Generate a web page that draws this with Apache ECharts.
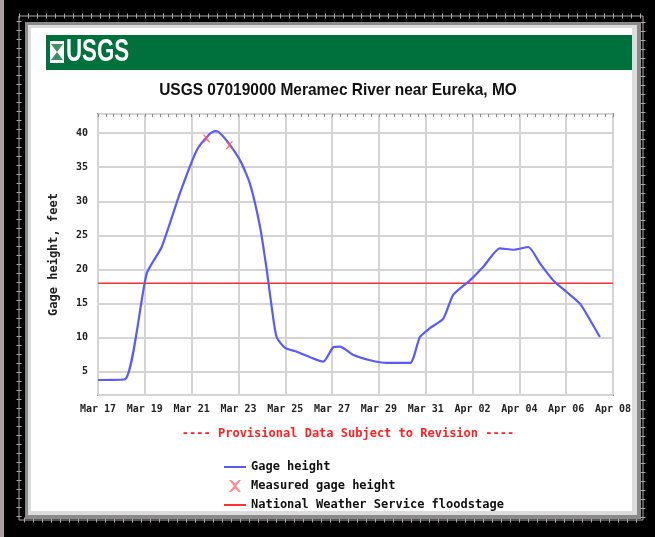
<!DOCTYPE html>
<html>
<head>
<meta charset="utf-8">
<script src="https://cdn.jsdelivr.net/npm/echarts@6/dist/echarts.min.js"></script>
<style>
  html, body { margin: 0; padding: 0; background: #000; }
  #chart { width: 655px; height: 537px; }
</style>
</head>
<body>
<div id="chart"></div>
<script>
// days since Mar 17 00:00 and gage height (feet)
const gageDays = [0, 1.15, 2.08, 2.72, 3.5, 4.22, 4.78, 5.0, 5.14, 5.5, 6.07, 6.49, 6.92, 7.21, 7.42, 7.63, 7.99, 8.49, 9.62, 10.05, 10.34, 10.89, 11.62, 12.33, 13.33, 13.75, 14.18, 14.75, 15.18, 15.89, 16.46, 17.17, 17.74, 18.38, 18.88, 19.45, 20.02, 20.59, 21.02, 21.44]
const gageHeight = [3.8, 3.9, 19.4, 23.3, 31.2, 37.5, 39.9, 40.3, 40.2, 38.9, 36.0, 32.6, 26.3, 19.9, 14.5, 10.1, 8.5, 7.95, 6.5, 8.6, 8.7, 7.5, 6.7, 6.3, 6.3, 10.1, 11.4, 12.8, 16.3, 18.4, 20.4, 23.1, 22.9, 23.3, 20.9, 18.4, 16.7, 15.0, 12.6, 10.1]

const measuredDays = [4.64, 5.61]
const measuredHeight = [39.2, 38.2]

const floodStage = 18
const startDate = Date.UTC(2008, 2, 17)
const monthNames = ['Jan', 'Feb', 'Mar', 'Apr', 'May', 'Jun', 'Jul', 'Aug', 'Sep', 'Oct', 'Nov', 'Dec']

function dayLabel(v) {
  const d = new Date(startDate + v * 86400000)
  const dd = String(d.getUTCDate()).padStart(2, '0')
  return monthNames[d.getUTCMonth()] + ' ' + dd
}

const mono = '"DejaVu Sans Mono", monospace'
const sans = '"Liberation Sans", Arial, sans-serif'
const xPath = 'path://M0,0 L2,0 L5,3 L8,0 L10,0 L6,5 L10,10 L8,10 L5,7 L2,10 L0,10 L4,5 Z'
const monoText = { fontFamily: mono, fontWeight: 'bold', color: '#222' }

const chart = echarts.init(document.getElementById('chart'))
chart.setOption({
  backgroundColor: '#000',
  animation: false,
  graphic: [
    { type: 'rect', z: -10, silent: true, shape: { x: 0, y: 0, width: 4, height: 537 }, style: { fill: '#a99ca3' } },
    { type: 'rect', z: -10, silent: true, shape: { x: 19, y: 16, width: 624, height: 504 }, style: { fill: 'none', stroke: '#b0a8ac', lineWidth: 1 } },
    { type: 'rect', z: -10, silent: true, shape: { x: 19, y: 16, width: 624, height: 504 }, style: { fill: 'none', stroke: '#b0a8ac', lineWidth: 5, lineDash: [1, 8] } },
    { type: 'rect', z: -10, silent: true, shape: { x: 25, y: 22, width: 616, height: 497 }, style: { fill: '#8a8a8a' } },
    { type: 'rect', z: -10, silent: true, shape: { x: 28, y: 25, width: 609, height: 490 }, style: { fill: '#dcdcdc' } },
    { type: 'rect', z: -10, silent: true, shape: { x: 31, y: 28, width: 601, height: 483 }, style: { fill: '#fff' } },
    { type: 'rect', z: -9, silent: true, shape: { x: 46, y: 35, width: 586, height: 35 }, style: { fill: '#00703c' } },
    { type: 'rect', z: -8, silent: true, shape: { x: 50, y: 41, width: 14, height: 22 }, style: { fill: '#fff' } },
    { type: 'polygon', z: -7, silent: true, shape: { points: [[51, 44], [57, 52], [51, 60], [63, 60], [57, 52], [63, 44]] }, style: { fill: '#3f8f64' } },
    { type: 'text', z: -7, silent: true, x: 66, y: 52, scaleX: 0.72, style: { text: 'USGS', font: 'bold 31px ' + sans, fill: '#fff', textVerticalAlign: 'middle' } },
    { type: 'text', z: -7, silent: true, x: 338, y: 90, scaleX: 0.91, style: { text: 'USGS 07019000 Meramec River near Eureka, MO', font: 'bold 17px ' + sans, fill: '#111', textAlign: 'center', textVerticalAlign: 'middle' } },
    { type: 'text', z: -7, silent: true, x: 348, y: 434, style: { text: '---- Provisional Data Subject to Revision ----', font: 'bold 12px ' + mono, fill: '#ff2020', textAlign: 'center', textVerticalAlign: 'middle' } }
  ],
  grid: {
    left: 98, top: 114, width: 515, height: 281,
    show: true, backgroundColor: '#fff', borderColor: '#8c8c8c', borderWidth: 2
  },
  legend: {
    orient: 'vertical',
    left: 219, top: 456,
    itemWidth: 22, itemHeight: 12, itemGap: 7,
    textStyle: { fontFamily: mono, fontWeight: 'bold', fontSize: 12, color: '#111' },
    data: [
      { name: 'Gage height', icon: 'path://M0,5 L22,5 L22,7 L0,7 Z' },
      { name: 'Measured gage height', icon: xPath, itemStyle: { color: '#ff7070' } },
      { name: 'National Weather Service floodstage', icon: 'path://M0,5 L22,5 L22,7 L0,7 Z' }
    ]
  },
  xAxis: [{
    type: 'value', min: 0, max: 22, interval: 2,
    axisLine: { show: false },
    axisTick: { show: false },
    axisLabel: Object.assign({ formatter: dayLabel, margin: 9, fontSize: 10 }, monoText),
    splitLine: { lineStyle: { color: '#d4d4d4', width: 2 } }
  }, {
    type: 'value', min: 0, max: 22, interval: 2, position: 'top',
    axisLine: { show: false },
    axisTick: { show: true, inside: true, length: 3, lineStyle: { color: '#888' } },
    minorTick: { show: true, splitNumber: 6, length: 3, lineStyle: { color: '#888' } },
    axisLabel: { show: false },
    splitLine: { show: false }
  }],
  yAxis: {
    type: 'value', min: 1.6, max: 42.8, splitNumber: 8,
    name: 'Gage height, feet', nameLocation: 'middle', nameGap: 38, nameRotate: 90,
    nameTextStyle: Object.assign({ fontSize: 12 }, monoText),
    axisLine: { show: false },
    axisTick: { show: false },
    axisLabel: Object.assign({
      showMinLabel: false, showMaxLabel: false, margin: 10, fontSize: 10,
      formatter: v => (Math.abs(v % 5) < 1e-6 ? String(v) : '')
    }, monoText),
    splitLine: { lineStyle: { color: '#d4d4d4', width: 2 } }
  },
  series: [
    {
      name: 'Gage height', type: 'line', smooth: 0.2, showSymbol: false,
      data: gageDays.map((d, i) => [d, gageHeight[i]]),
      lineStyle: { color: '#5a5aff', width: 2.2 },
      itemStyle: { color: '#5a5aff' },
      z: 3
    },
    {
      name: 'Measured gage height', type: 'scatter', symbol: xPath, symbolSize: 8,
      data: measuredDays.map((d, i) => [d, measuredHeight[i]]),
      itemStyle: { color: '#ff5a5a' },
      z: 4
    },
    {
      name: 'National Weather Service floodstage', type: 'line', showSymbol: false,
      data: [[0, floodStage], [22, floodStage]],
      lineStyle: { color: '#ff3030', width: 1.5 },
      itemStyle: { color: '#ff3030' },
      z: 2
    }
  ]
})
</script>
</body>
</html>
